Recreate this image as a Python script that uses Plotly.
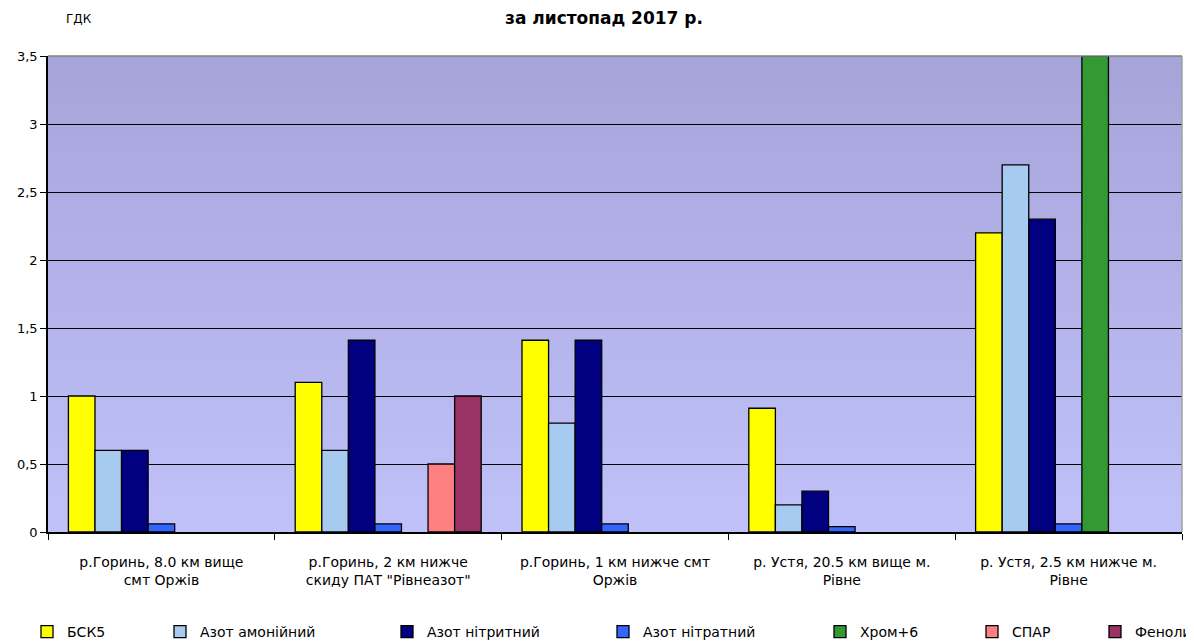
import plotly.graph_objects as go

categories = [
    "р.Горинь, 8.0 км вище<br>смт Оржів",
    "р.Горинь, 2 км нижче<br>скиду ПАТ \"Рівнеазот\"",
    "р.Горинь, 1 км нижче смт<br>Оржів",
    "р. Устя, 20.5 км вище м.<br>Рівне",
    "р. Устя, 2.5 км нижче м.<br>Рівне",
]
series_names = ["БСК5", "Азот амонійний", "Азот нітритний", "Азот нітратний", "Хром+6", "СПАР", "Феноли"]
bsk5 = [1.0, 1.1, 1.41, 0.91, 2.2]
azot_amon = [0.6, 0.6, 0.8, 0.2, 2.7]
azot_nitryt = [0.6, 1.41, 1.41, 0.3, 2.3]
azot_nitrat = [0.06, 0.06, 0.06, 0.04, 0.06]
khrom6 = [None, None, None, None, 3.5]
spar = [None, 0.5, None, None, None]
fenoly = [None, 1.0, None, None, None]
series_values = [bsk5, azot_amon, azot_nitryt, azot_nitrat, khrom6, spar, fenoly]
colors = ["#FFFF00", "#A6CAF0", "#000080", "#3366FF", "#339933", "#FF8080", "#993366"]
y_ticks = [0, 0.5, 1, 1.5, 2, 2.5, 3, 3.5]
y_tick_labels = ["0", "0,5", "1", "1,5", "2", "2,5", "3", "3,5"]

# legend swatch left positions on the page (px), as in the reference layout
legend_px = [42, 175, 402, 618, 835, 987, 1110]

OFF = 8  # page body margin of the html page
W, H = 1194 - OFF, 641 - OFF
L, R, T, B = 48 - OFF, 12, 56 - OFF, 109
PW, PH = W - L - R, H - T - B
FONT = "DejaVu Sans, Verdana, sans-serif"


def px_x(page_x):
    return (page_x - OFF - L) / PW


def px_y(page_y):
    return (H - B - (page_y - OFF)) / PH


fig = go.Figure()
legend_layouts = {}
for i, (name, vals, col) in enumerate(zip(series_names, series_values, colors)):
    lname = "legend" if i == 0 else "legend%d" % (i + 1)
    fig.add_trace(go.Bar(
        x=categories, y=vals, name=name, legend=lname,
        marker=dict(color=col, line=dict(color="black", width=1.3)),
    ))
    legend_layouts[lname] = dict(
        xref="container", yref="container",
        x=(legend_px[i] - 23) / W, y=1 - (632 - OFF) / H, xanchor="left", yanchor="middle",
        orientation="h", bgcolor="rgba(0,0,0,0)", borderwidth=0,
        font=dict(size=14, family=FONT, color="black"), itemwidth=30,
    )

# gradient background bands
n = 40
top = (165, 165, 218)
bot = (193, 193, 250)
shapes = []
for i in range(n):
    f = i / (n - 1)
    c = tuple(round(bot[k] + (top[k] - bot[k]) * f) for k in range(3))
    shapes.append(dict(type="rect", xref="x domain", yref="y domain",
                       x0=0, x1=1, y0=i / n, y1=min(1, (i + 1.6) / n),
                       fillcolor="rgb(%d,%d,%d)" % c, line=dict(width=0), layer="below"))
shapes.append(dict(type="line", xref="x domain", yref="y domain", x0=0, x1=1, y0=1, y1=1,
                   line=dict(color="#808080", width=1.5)))
shapes.append(dict(type="line", xref="x domain", yref="y domain", x0=1, x1=1, y0=0, y1=1,
                   line=dict(color="#A0A0A0", width=1.5)))

fig.update_layout(
    width=W, height=H,
    margin=dict(l=L, r=R, t=T, b=B, autoexpand=False),
    paper_bgcolor="white",
    plot_bgcolor="rgba(0,0,0,0)",
    font=dict(family=FONT, size=14, color="black"),
    barmode="group",
    bargap=0.18,
    bargroupgap=0,
    shapes=shapes,
    annotations=[
        dict(text="<b>за листопад 2017 р.</b>", xref="paper", yref="paper",
             x=px_x(604), y=px_y(18), xanchor="center", yanchor="middle", showarrow=False,
             font=dict(size=17, family=FONT, color="black")),
        dict(text="ГДК", xref="paper", yref="paper", x=px_x(64), y=px_y(19),
             xanchor="left", yanchor="middle", showarrow=False,
             font=dict(size=12, family=FONT, color="black")),
    ],
    showlegend=True,
    **legend_layouts,
)
fig.update_xaxes(
    showline=True, linecolor="black", linewidth=1.5,
    ticks="outside", tickson="boundaries", ticklen=6, tickcolor="black",
    showgrid=False, tickfont=dict(size=14, family=FONT), automargin=False,
    ticklabelstandoff=16,
)
fig.update_yaxes(
    range=[0, 3.5], tickvals=y_ticks, ticktext=y_tick_labels,
    showline=True, linecolor="black", linewidth=1.5,
    ticks="outside", ticklen=6, tickcolor="black",
    showgrid=True, gridcolor="black", gridwidth=1,
    zeroline=False, tickfont=dict(size=13, family=FONT), automargin=False,
)
fig.write_html("out.html")
